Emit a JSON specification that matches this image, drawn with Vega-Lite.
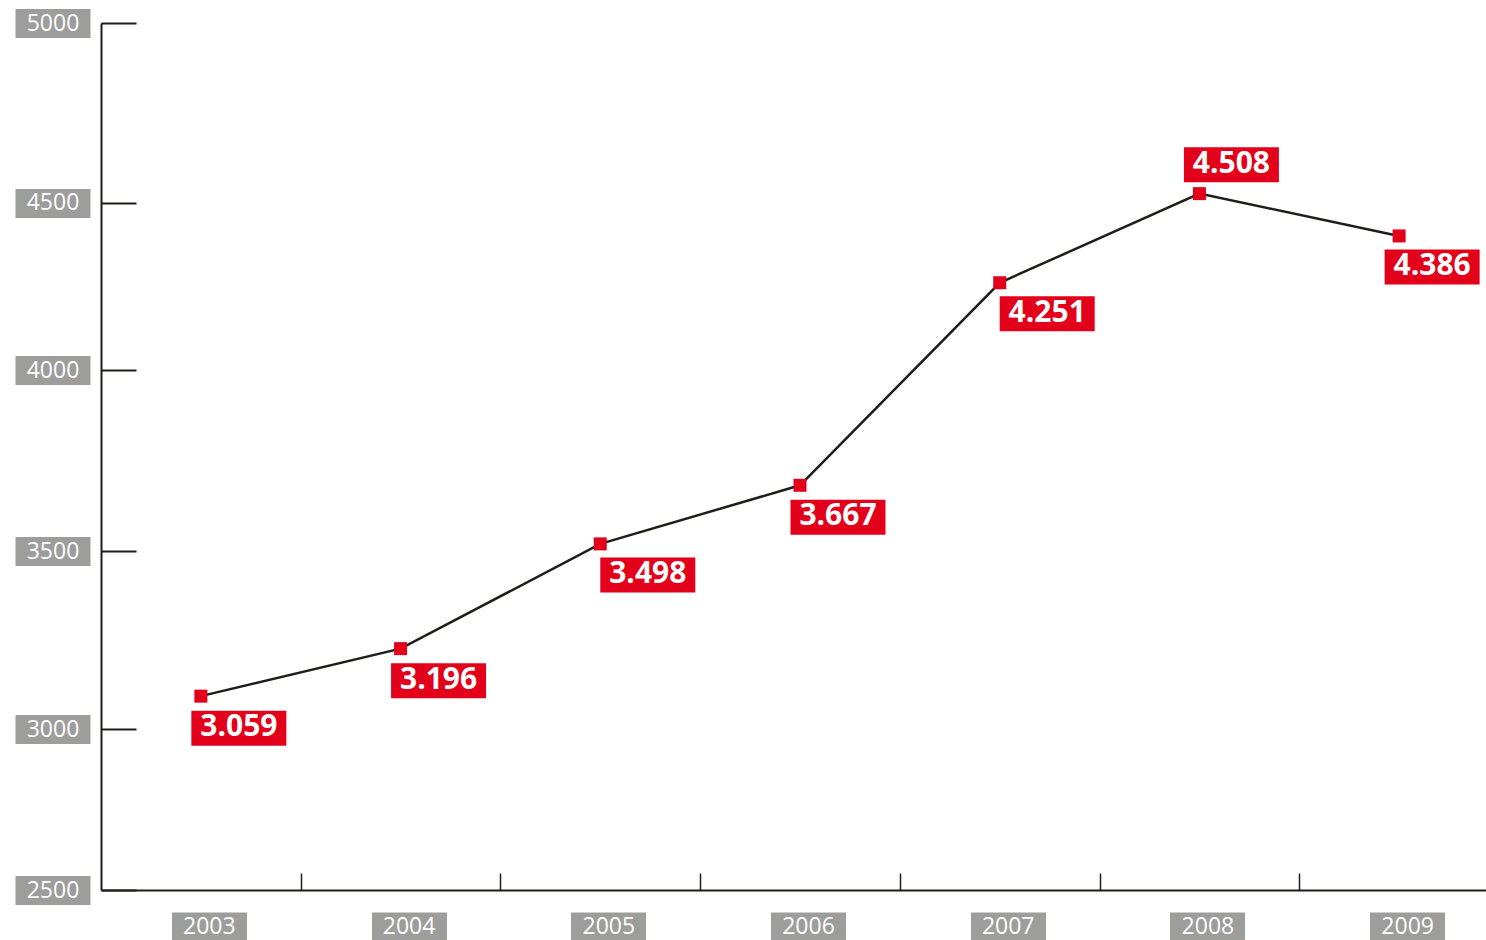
{
  "$schema": "https://vega.github.io/schema/vega-lite/v6.json",
  "width": 1385,
  "height": 867,
  "autosize": {"type": "none"},
  "padding": {"left": 101, "top": 23, "right": 0, "bottom": 50},
  "background": "white",
  "config": {
    "view": {"stroke": null},
    "font": "Open Sans",
    "locale": {"number": {"decimal": ",", "thousands": ".", "grouping": [3], "currency": ["", " €"]}}
  },
  "data": {
    "values": [
      {"year": 2003, "value": 3059},
      {"year": 2004, "value": 3196},
      {"year": 2005, "value": 3498},
      {"year": 2006, "value": 3667},
      {"year": 2007, "value": 4251},
      {"year": 2008, "value": 4508},
      {"year": 2009, "value": 4386}
    ]
  },
  "resolve": {"axis": {"x": "independent", "y": "independent"}},
  "layer": [
    {
      "mark": {"type": "line", "color": "#1d1d1b", "strokeWidth": 2.5},
      "encoding": {
        "x": {
          "field": "year", "type": "quantitative",
          "scale": {"domain": [2002.5, 2009.435], "nice": false, "zero": false},
          "axis": {
            "orient": "bottom", "values": [2003.5, 2004.5, 2005.5, 2006.5, 2007.5, 2008.5],
            "labels": false, "title": null, "grid": false,
            "domainColor": "#1d1d1b", "domainWidth": 2,
            "tickColor": "#1d1d1b", "tickWidth": 1.5, "tickSize": -17
          }
        },
        "y": {
          "field": "value", "type": "quantitative",
          "scale": {"domain": [2500, 5000], "nice": false, "zero": false},
          "axis": {
            "orient": "left", "values": [2500, 2964, 3477, 3999, 4481, 5000],
            "labels": false, "title": null, "grid": false,
            "domainColor": "#1d1d1b", "domainWidth": 2,
            "tickColor": "#1d1d1b", "tickWidth": 2, "tickSize": -35
          }
        }
      }
    },
    {
      "mark": {"type": "point", "shape": "square", "size": 169, "filled": true, "color": "#e2001a", "opacity": 1},
      "encoding": {
        "x": {
          "field": "year", "type": "quantitative",
          "axis": {
            "orient": "bottom", "offset": 22, "values": [2003, 2004, 2005, 2006, 2007, 2008, 2009],
            "format": "d", "domain": false, "title": null, "grid": false,
            "tickColor": "#9d9d9c", "tickWidth": 75, "tickSize": 29, "tickOffset": 8, "tickCap": "butt",
            "labelOffset": 0, "labelColor": "white", "labelFont": "Open Sans", "labelFontSize": 23,
            "labelPadding": -14.5, "labelBaseline": "middle", "labelFlush": false, "labelOverlap": false
          }
        },
        "y": {
          "field": "value", "type": "quantitative",
          "axis": {
            "orient": "left", "offset": 11, "values": [2500, 2964, 3477, 3999, 4481, 5000],
            "labelExpr": "format(round(datum.value / 500) * 500, 'd')",
            "domain": false, "title": null, "grid": false,
            "tickColor": "#9d9d9c", "tickWidth": 29, "tickSize": 75, "tickCap": "butt",
            "labelAlign": "center", "labelBaseline": "middle", "labelPadding": -37.5,
            "labelColor": "white", "labelFont": "Open Sans", "labelFontSize": 23, "labelOverlap": false
          }
        }
      }
    },
    {
      "transform": [{"filter": {"field": "year", "oneOf": [2003, 2004, 2006]}}],
      "encoding": {
        "x": {"field": "year", "type": "quantitative", "axis": null},
        "y": {"field": "value", "type": "quantitative", "axis": null}
      },
      "layer": [
        {"mark": {"type": "point", "shape": "M-2.714,-1L2.714,-1L2.714,1L-2.714,1Z", "size": 1225, "filled": true, "color": "#e2001a", "opacity": 1, "xOffset": 38, "yOffset": 32}},
        {"mark": {"type": "text", "font": "Open Sans", "fontWeight": "bold", "fontSize": 30, "color": "white", "align": "center", "baseline": "middle", "xOffset": 38, "yOffset": 31}, "encoding": {"text": {"field": "value", "type": "quantitative", "format": ",d"}}}
      ]
    },
    {
      "transform": [{"filter": {"field": "year", "oneOf": [2005, 2007]}}],
      "encoding": {
        "x": {"field": "year", "type": "quantitative", "axis": null},
        "y": {"field": "value", "type": "quantitative", "axis": null}
      },
      "layer": [
        {"mark": {"type": "point", "shape": "M-2.714,-1L2.714,-1L2.714,1L-2.714,1Z", "size": 1225, "filled": true, "color": "#e2001a", "opacity": 1, "xOffset": 47.5, "yOffset": 31}},
        {"mark": {"type": "text", "font": "Open Sans", "fontWeight": "bold", "fontSize": 30, "color": "white", "align": "center", "baseline": "middle", "xOffset": 47.5, "yOffset": 30}, "encoding": {"text": {"field": "value", "type": "quantitative", "format": ",d"}}}
      ]
    },
    {
      "transform": [{"filter": {"field": "year", "oneOf": [2008]}}],
      "encoding": {
        "x": {"field": "year", "type": "quantitative", "axis": null},
        "y": {"field": "value", "type": "quantitative", "axis": null}
      },
      "layer": [
        {"mark": {"type": "point", "shape": "M-2.714,-1L2.714,-1L2.714,1L-2.714,1Z", "size": 1225, "filled": true, "color": "#e2001a", "opacity": 1, "xOffset": 32, "yOffset": -29}},
        {"mark": {"type": "text", "font": "Open Sans", "fontWeight": "bold", "fontSize": 30, "color": "white", "align": "center", "baseline": "middle", "xOffset": 32, "yOffset": -30}, "encoding": {"text": {"field": "value", "type": "quantitative", "format": ",d"}}}
      ]
    },
    {
      "transform": [{"filter": {"field": "year", "oneOf": [2009]}}],
      "encoding": {
        "x": {"field": "year", "type": "quantitative", "axis": null},
        "y": {"field": "value", "type": "quantitative", "axis": null}
      },
      "layer": [
        {"mark": {"type": "point", "shape": "M-2.714,-1L2.714,-1L2.714,1L-2.714,1Z", "size": 1225, "filled": true, "color": "#e2001a", "opacity": 1, "xOffset": 33, "yOffset": 31}},
        {"mark": {"type": "text", "font": "Open Sans", "fontWeight": "bold", "fontSize": 30, "color": "white", "align": "center", "baseline": "middle", "xOffset": 33, "yOffset": 30}, "encoding": {"text": {"field": "value", "type": "quantitative", "format": ",d"}}}
      ]
    }
  ]
}
